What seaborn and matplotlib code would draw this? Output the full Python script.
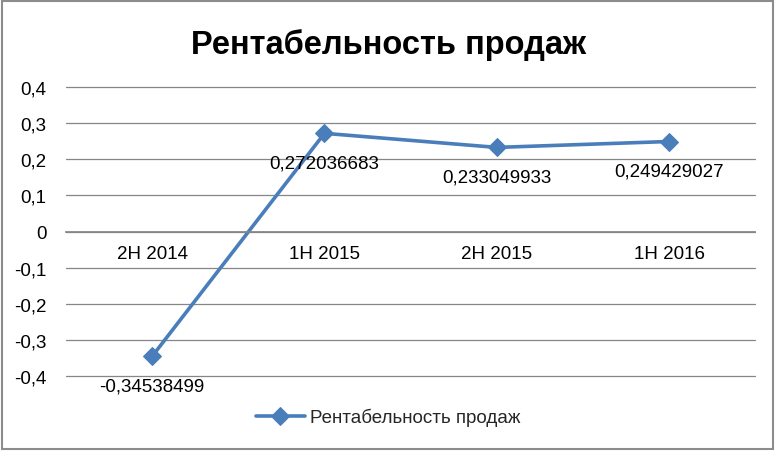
import matplotlib.pyplot as plt
import seaborn as sns
import pandas as pd
from matplotlib.patches import Rectangle

sns.set_theme(style="white")
plt.rcParams['font.family'] = ['Liberation Sans', 'DejaVu Sans']

# data
periods = ['2H 2014', '1H 2015', '2H 2015', '1H 2016']
values = [-0.34538499, 0.272036683, 0.233049933, 0.249429027]
series_name = 'Рентабельность продаж'

df = pd.DataFrame({'period': periods, 'value': values})
df['x'] = range(len(periods))

blue = '#4A7EBB'
grid_gray = '#868686'

fig = plt.figure(figsize=(7.77, 4.52), dpi=100)
ax = fig.add_axes([0.085, 0.166, 0.887, 0.639])

sns.lineplot(data=df, x='x', y='value', ax=ax, color=blue, linewidth=2.6,
             marker='D', markersize=9, markeredgecolor=blue, label=series_name)

ax.set_xlim(-0.5, 3.5)
ax.set_ylim(-0.4, 0.4)
yt = [-0.4, -0.3, -0.2, -0.1, 0, 0.1, 0.2, 0.3, 0.4]
ax.set_yticks(yt)
ax.set_yticklabels(['0' if v == 0 else f'{v:.1f}'.replace('.', ',') for v in yt])
ax.set_xticks(df['x'])
ax.set_xticklabels(periods)
ax.grid(axis='y', color=grid_gray, linewidth=0.9)
for gl in ax.get_ygridlines():
    gl.set_clip_on(False)
ax.set_axisbelow(True)

for s in ['left', 'right', 'top']:
    ax.spines[s].set_visible(False)
ax.spines['bottom'].set_position(('data', 0))
ax.spines['bottom'].set_color(grid_gray)
ax.tick_params(axis='both', length=0, labelsize=13.5, colors='black')
ax.tick_params(axis='x', pad=10)
ax.tick_params(axis='y', pad=14)
ax.set_xlabel('')
ax.set_ylabel('')

for xi, v in zip(df['x'], df['value']):
    ax.annotate(f'{v:.9g}'.replace('.', ','), (xi, v), xytext=(0, -15),
                textcoords='offset points', ha='center', va='top', fontsize=13.5,
                color='black')

fig.text(0.5, 0.9, series_name, ha='center', va='center',
         fontsize=23.5, fontweight='bold', color='black')

ax.get_legend().remove()
handles, labels = ax.get_legend_handles_labels()
fig.legend(handles, labels, loc='center', bbox_to_anchor=(0.5, 0.075), frameon=False,
           fontsize=13.5, handlelength=2.6, handletextpad=0.3)

fig.patches.append(Rectangle((0.003, 0.005), 0.992, 0.99, transform=fig.transFigure,
                             fill=False, edgecolor='#8C8C8C', linewidth=1.5))

fig.savefig('out.png', dpi=100)
